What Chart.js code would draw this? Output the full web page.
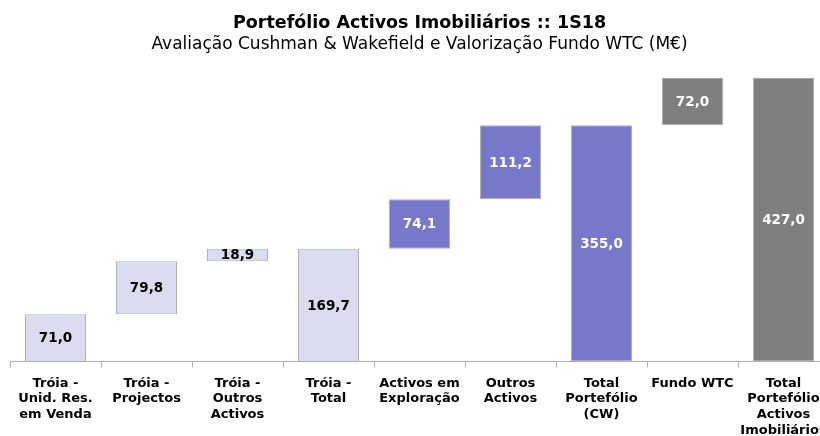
<!DOCTYPE html>
<html><head><meta charset="utf-8">
<script src="https://cdn.jsdelivr.net/npm/chart.js@4.4.1/dist/chart.umd.min.js"></script>
<style>
html,body{margin:0;padding:0;overflow:hidden;background:#fff;width:820px;height:436px;}
#wrap{position:absolute;left:0;top:0;width:840px;height:446px;}
</style></head>
<body><div id="wrap"><canvas id="c" width="840" height="446"></canvas></div>
<script>
const categories = [
  ["Tróia -","Unid. Res.","em Venda"],
  ["Tróia -","Projectos"],
  ["Tróia -","Outros","Activos"],
  ["Tróia -","Total"],
  ["Activos em","Exploração"],
  ["Outros","Activos"],
  ["Total","Portefólio","(CW)"],
  ["Fundo WTC"],
  ["Total","Portefólio","Activos","Imobiliários"]
];
const barStart = [0, 71.0, 150.8, 0, 169.7, 243.8, 0, 355.0, 0];
const barValue = [71.0, 79.8, 18.9, 169.7, 74.1, 111.2, 355.0, 72.0, 427.0];
const labels = ["71,0","79,8","18,9","169,7","74,1","111,2","355,0","72,0","427,0"];
const groups = ["troia","troia","troia","troia","cw","cw","cw","wtc","wtc"];

const fillFor = {troia:'#dcdcf0', cw:'#7878cb', wtc:'#7f7f7f'};
const textFor = {troia:'#000', cw:'#fff', wtc:'#fff'};
const FONT = '"DejaVu Sans", sans-serif';

const valueLabels = {
  id:'valueLabels',
  afterDatasetsDraw(chart){
    const ctx = chart.ctx;
    const meta = chart.getDatasetMeta(0);
    ctx.save();
    ctx.font = 'bold 13.5px ' + FONT;
    ctx.textAlign = 'center';
    ctx.textBaseline = 'middle';
    meta.data.forEach((el,i)=>{
      const top = Math.min(el.y, el.base), bot = Math.max(el.y, el.base);
      ctx.fillStyle = textFor[groups[i]];
      ctx.fillText(labels[i], el.x, (top+bot)/2 + 1);
    });
    ctx.restore();
  }
};

new Chart(document.getElementById('c'), {
  type:'bar',
  data:{
    labels: categories,
    datasets:[{
      data: barStart.map((s,i)=>[s, s+barValue[i]]),
      backgroundColor: groups.map(g=>fillFor[g]),
      borderColor:'#b0b0b0',
      borderWidth:1,
      borderSkipped:false,
      barPercentage:0.67,
      categoryPercentage:1.0
    }]
  },
  options:{
    responsive:false,
    animation:false,
    layout:{padding:{left:10,right:11,top:0,bottom:0}},
    plugins:{
      legend:{display:false},
      tooltip:{enabled:false},
      title:{display:true,text:'Portefólio Activos Imobiliários :: 1S18',color:'#000',
        font:{family:FONT,size:17.5,weight:'bold'},padding:{top:13,bottom:0}},
      subtitle:{display:true,text:'Avaliação Cushman & Wakefield e Valorização Fundo WTC (M€)',color:'#000',
        font:{family:FONT,size:17,weight:'normal'},padding:{top:0,bottom:23}}
    },
    scales:{
      x:{
        grid:{display:true,drawOnChartArea:false,drawTicks:true,tickLength:6,offset:true,color:'#b0b0b0'},
        border:{display:true,color:'#b0b0b0',width:1},
        ticks:{color:'#000',font:{family:FONT,size:13,weight:'bold',lineHeight:1.2},padding:8,maxRotation:0,autoSkip:false}
      },
      y:{display:false,min:0,max:427}
    }
  },
  plugins:[valueLabels]
});
</script></body></html>
